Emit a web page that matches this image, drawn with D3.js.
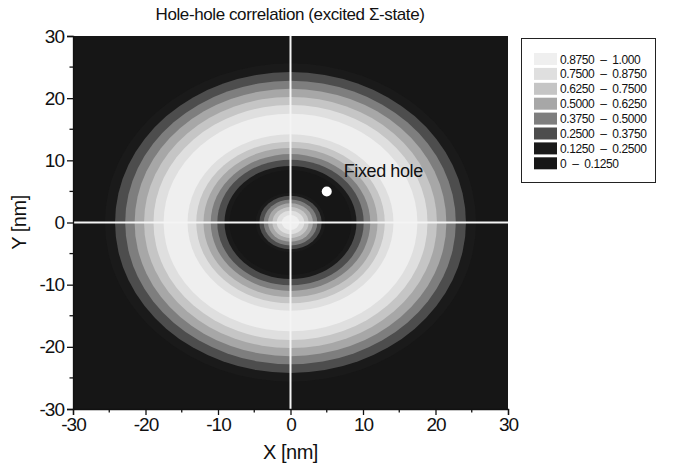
<!DOCTYPE html>
<html>
<head>
<meta charset="utf-8">
<script src="https://cdn.jsdelivr.net/npm/d3@7"></script>
<style>
  html, body { margin: 0; padding: 0; background: #fff; }
  svg { display: block; }
  text { font-family: "Liberation Sans", Arial, sans-serif; fill: #111; }
</style>
</head>
<body>
<svg id="chart" width="673" height="467"></svg>
<script>
// Contour levels of the normalised hole-hole correlation
const thresholds = [0.125, 0.25, 0.375, 0.5, 0.625, 0.75, 0.875];
const legendLabels = ["0.8750  \u2013  1.000", "0.7500  \u2013  0.8750", "0.6250  \u2013  0.7500",
  "0.5000  \u2013  0.6250", "0.3750  \u2013  0.5000", "0.2500  \u2013  0.3750",
  "0.1250  \u2013  0.2500", "0  \u2013  0.1250"];
// Fill for each band, from lowest (0–0.125) to highest (0.875–1)
const bandColors = ["#161616", "#1a1a1a", "#4d4d4d", "#7e7e7e", "#a7a7a7", "#c5c5c5", "#dfdfdf", "#efefef"];

// Radius (nm) where the field crosses each threshold
const ringInnerRadius = [8.4, 9.1, 10.1, 11.0, 12.0, 13.0, 14.2];   // rising edge of the outer ring
const ringOuterRadius = [25.6, 24.2, 22.8, 21.5, 20.2, 18.9, 17.5]; // falling edge of the outer ring
const coreRadius = [4.8, 4.3, 3.7, 3.1, 2.5, 1.9, 1.2];             // central peak

const fixedHole = { x: 5, y: 5, label: "Fixed hole" };
const xTicks = [-30, -20, -10, 0, 10, 20, 30];
const yTicks = [-30, -20, -10, 0, 10, 20, 30];
const minorTicks = [-25, -15, -5, 5, 15, 25];

const svg = d3.select("#chart");
const box = { left: 73, right: 508, top: 36, bottom: 409 };
const x = d3.scaleLinear().domain([-30, 30]).range([box.left, box.right]);
const y = d3.scaleLinear().domain([-30, 30]).range([box.bottom, box.top]);

// Title
svg.append("text").attr("x", 290).attr("y", 20).attr("text-anchor", "middle")
  .style("font-size", "17px").style("letter-spacing", "-0.4px")
  .text("Hole-hole correlation (excited \u03a3-state)");

// Plot background = lowest band
svg.append("defs").append("clipPath").attr("id", "plotClip")
  .append("rect").attr("x", box.left).attr("y", box.top)
  .attr("width", box.right - box.left).attr("height", box.bottom - box.top);
const plot = svg.append("g").attr("clip-path", "url(#plotClip)");
plot.append("rect").attr("x", box.left).attr("y", box.top)
  .attr("width", box.right - box.left).attr("height", box.bottom - box.top)
  .attr("fill", bandColors[0]);

// Each crossing radius bounds a disk whose interior starts a given band
const discs = [];
thresholds.forEach((t, i) => {
  discs.push({ r: ringOuterRadius[i], band: i + 1 });
  discs.push({ r: ringInnerRadius[i], band: i });
  discs.push({ r: coreRadius[i], band: i + 1 });
});
discs.sort((a, b) => b.r - a.r);

plot.selectAll("ellipse.band").data(discs).join("ellipse")
  .attr("class", "band")
  .attr("cx", x(0)).attr("cy", y(0))
  .attr("rx", d => x(d.r) - x(0))
  .attr("ry", d => y(0) - y(d.r))
  .attr("fill", d => bandColors[d.band]);

// Cross-hair through the origin
plot.append("line").attr("x1", x(0)).attr("x2", x(0)).attr("y1", box.top).attr("y2", box.bottom)
  .attr("stroke", "#f4f4f4").attr("stroke-width", 2);
plot.append("line").attr("x1", box.left).attr("x2", box.right).attr("y1", y(0)).attr("y2", y(0))
  .attr("stroke", "#f4f4f4").attr("stroke-width", 2);

// Fixed hole marker
plot.append("circle").attr("cx", x(fixedHole.x)).attr("cy", y(fixedHole.y)).attr("r", 5).attr("fill", "#fff");
svg.append("text").attr("x", x(fixedHole.x) + 17).attr("y", y(fixedHole.y) - 14)
  .style("font-size", "18px").style("letter-spacing", "-0.4px").text(fixedHole.label);

// Axes (plain hyphen for negative labels)
const fmt = d => String(d);
const xAxis = svg.append("g").attr("transform", `translate(0,${box.bottom})`)
  .call(d3.axisBottom(x).tickValues(xTicks).tickFormat(fmt).tickSize(6).tickPadding(3));
const yAxis = svg.append("g").attr("transform", `translate(${box.left},0)`)
  .call(d3.axisLeft(y).tickValues(yTicks).tickFormat(fmt).tickSize(6).tickPadding(3));
[xAxis, yAxis].forEach(g => {
  g.select(".domain").attr("stroke", "#111").attr("stroke-width", 1.3);
  g.selectAll(".tick line").attr("stroke", "#111").attr("stroke-width", 1.3);
  g.selectAll(".tick text").style("font-size", "19px").attr("fill", "#111")
    .style("letter-spacing", "-1px")
    .style("font-family", '"Liberation Sans", Arial, sans-serif');
});
xAxis.selectAll("line.minor").data(minorTicks).join("line").attr("class", "minor")
  .attr("x1", d => x(d)).attr("x2", d => x(d)).attr("y1", 0).attr("y2", 3.5)
  .attr("stroke", "#111").attr("stroke-width", 1.3);
yAxis.selectAll("line.minor").data(minorTicks).join("line").attr("class", "minor")
  .attr("y1", d => y(d)).attr("y2", d => y(d)).attr("x1", 0).attr("x2", -3.5)
  .attr("stroke", "#111").attr("stroke-width", 1.3);

// Axis titles
svg.append("text").attr("x", x(0)).attr("y", 459).attr("text-anchor", "middle")
  .style("font-size", "20px").style("letter-spacing", "-0.5px").text("X [nm]");
svg.append("text").attr("transform", `translate(26,${y(0)}) rotate(-90)`).attr("text-anchor", "middle")
  .style("font-size", "20px").style("letter-spacing", "-0.5px").text("Y [nm]");

// Legend
const legend = svg.append("g");
legend.append("rect").attr("x", 521.5).attr("y", 38.5).attr("width", 134).attr("height", 144)
  .attr("fill", "#fff").attr("stroke", "#222").attr("stroke-width", 1);
const legendColors = bandColors.slice().reverse();
const rows = legend.selectAll("g.row").data(legendLabels).join("g").attr("class", "row")
  .attr("transform", (d, i) => `translate(534,${53 + i * 14.9})`);
rows.append("rect").attr("width", 23).attr("height", 12).attr("fill", (d, i) => legendColors[i]);
rows.append("text").attr("x", 26).attr("y", 10.5).style("font-size", "12px")
  .style("letter-spacing", "-0.4px").style("white-space", "pre").attr("xml:space", "preserve").text(d => d);
</script>
</body>
</html>
